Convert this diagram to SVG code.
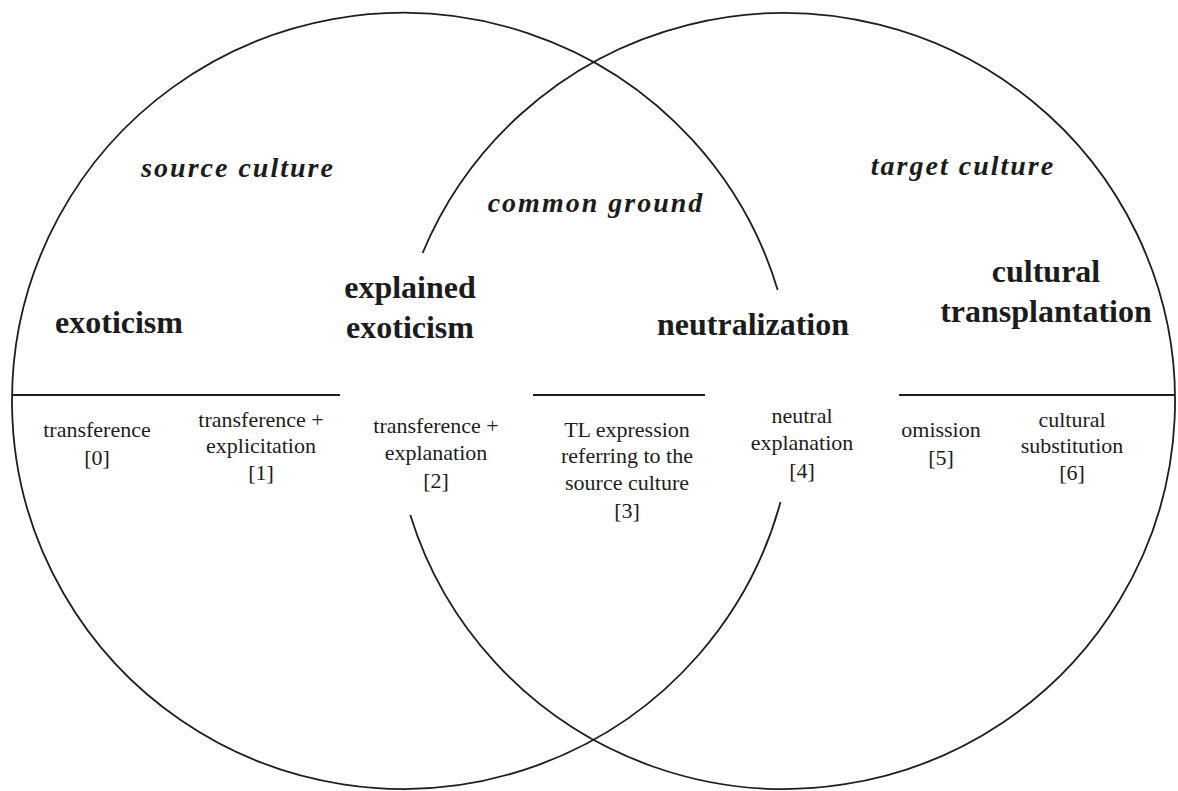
<svg xmlns="http://www.w3.org/2000/svg" width="1178" height="791" viewBox="0 0 1178 791">
<style>
.ln{fill:none;stroke:#1e1e1e;stroke-width:1.8}
.hl{fill:none;stroke:#1e1e1e;stroke-width:2.2}
text{font-family:"Liberation Serif","Times New Roman",serif;fill:#1c1c1c;text-anchor:middle}
.b{font-size:32px;font-weight:bold}
.i{font-size:28px;font-weight:bold;font-style:italic;letter-spacing:2px}
.s{font-size:22px}
</style>
<rect width="1178" height="791" fill="#ffffff"/>
<g id="circles">
<path class="ln" d="M777.7,290 A391,388 0 1 0 780.5,502"/>
<path class="ln" d="M422.6,253 A391,388 0 1 1 410.3,515"/>
</g>
<g id="dividers">
<line class="hl" x1="12" y1="395" x2="340" y2="395"/>
<line class="hl" x1="533" y1="395" x2="705" y2="395"/>
<line class="hl" x1="899" y1="395" x2="1175" y2="395"/>
</g>
<g id="source-culture"><text class="i" x="238" y="177">source culture</text></g>
<g id="common-ground"><text class="i" x="596" y="212">common ground</text></g>
<g id="target-culture"><text class="i" x="963" y="175">target culture</text></g>
<g id="exoticism"><text class="b" x="119" y="333">exoticism</text></g>
<g id="explained-exoticism"><text class="b" x="410" y="298">explained</text><text class="b" x="410" y="338">exoticism</text></g>
<g id="neutralization"><text class="b" x="753" y="335">neutralization</text></g>
<g id="cultural-transplantation"><text class="b" x="1046" y="282">cultural</text><text class="b" x="1046" y="322">transplantation</text></g>
<g id="s0"><text class="s" x="97" y="437">transference</text><text class="s" x="97" y="465">[0]</text></g>
<g id="s1"><text class="s" x="261" y="427">transference +</text><text class="s" x="261" y="453">explicitation</text><text class="s" x="261" y="480">[1]</text></g>
<g id="s2"><text class="s" x="436" y="433">transference +</text><text class="s" x="436" y="460">explanation</text><text class="s" x="436" y="488">[2]</text></g>
<g id="s3"><text class="s" x="627" y="437">TL expression</text><text class="s" x="627" y="463">referring to the</text><text class="s" x="627" y="490">source culture</text><text class="s" x="627" y="518">[3]</text></g>
<g id="s4"><text class="s" x="802" y="423">neutral</text><text class="s" x="802" y="450">explanation</text><text class="s" x="802" y="478">[4]</text></g>
<g id="s5"><text class="s" x="941" y="437">omission</text><text class="s" x="941" y="465">[5]</text></g>
<g id="s6"><text class="s" x="1072" y="427">cultural</text><text class="s" x="1072" y="453">substitution</text><text class="s" x="1072" y="480">[6]</text></g>
</svg>
